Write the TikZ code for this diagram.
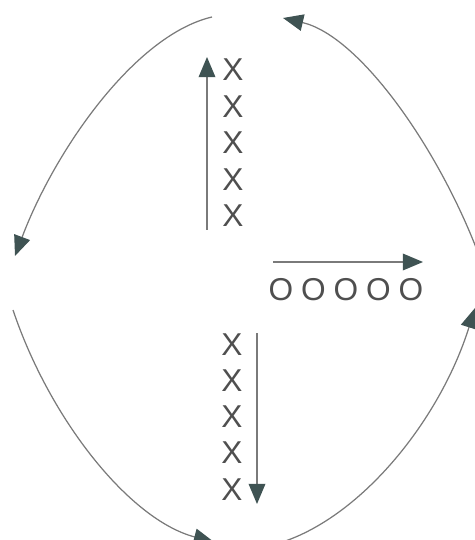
\documentclass[tikz,border=0pt]{standalone}
\usepackage{fontspec}
\setmainfont{Liberation Sans}
\usetikzlibrary{
    arrows.meta
}
\definecolor{linea}{HTML}{7A7A7A}
\definecolor{punta}{HTML}{3F5353}
\definecolor{letra}{HTML}{4F4F4F}
\tikzset{
    >={Triangle[length=11.5pt,width=9.5pt,color=punta]},
    flecha/.style={
        ->,
        draw=linea,
        line width=0.8pt
    },
    giro/.style={
        ->,
        draw=linea,
        line width=0.7pt
    },
    marca/.style={
        text=letra,
        inner sep=0pt,
        font=\fontsize{18}{20}\selectfont
    }
}

\begin{document}
\begin{tikzpicture}[
    x=0.02cm,
    y=-0.02cm
]
    \useasboundingbox (0,0) rectangle (475,540);

    % Columna de arriba
    \node[marca] (xa1) at (233,70)    {X};
    \node[marca] (xa2) at (233,106.5) {X};
    \node[marca] (xa3) at (233,143)   {X};
    \node[marca] (xa4) at (233,179.5) {X};
    \node[marca] (xa5) at (233,216)   {X};

    % Fila de la derecha
    \node[marca] (o1) at (281,290)   {O};
    \node[marca] (o2) at (313.5,290) {O};
    \node[marca] (o3) at (346,290)   {O};
    \node[marca] (o4) at (378.5,290) {O};
    \node[marca] (o5) at (411,290)   {O};

    % Columna de abajo
    \node[marca] (xb1) at (232,345) {X};
    \node[marca] (xb2) at (232,381) {X};
    \node[marca] (xb3) at (232,417) {X};
    \node[marca] (xb4) at (232,453) {X};
    \node[marca] (xb5) at (232,490) {X};

    % Extremos
    \coordinate (subeA) at (207,230);
    \coordinate (subeB) at (207,57);
    \coordinate (derA)  at (273,262);
    \coordinate (derB)  at (423,262);
    \coordinate (bajaA) at (257,333);
    \coordinate (bajaB) at (257,504);

    \coordinate (noA) at (212,17);
    \coordinate (noB) at (15,256);
    \coordinate (neA) at (480,258);
    \coordinate (neB) at (283,18);
    \coordinate (soA) at (13,310);
    \coordinate (soB) at (214,542);
    \coordinate (seA) at (276,544);
    \coordinate (seB) at (475,308);

    % Flechas rectas
    \draw[flecha] (subeA) -- (subeB);
    \draw[flecha] (derA) -- (derB);
    \draw[flecha] (bajaA) -- (bajaB);

    % Arcos
    \draw[giro] (noA) .. controls (135,35) and (55,150) .. (noB);
    \draw[giro] (neA) .. controls (440,150) and (360,36) .. (neB);
    \draw[giro] (soA) .. controls (50,420) and (130,520) .. (soB);
    \draw[giro] (seA) .. controls (360,520) and (440,420) .. (seB);

\end{tikzpicture}
\end{document}
